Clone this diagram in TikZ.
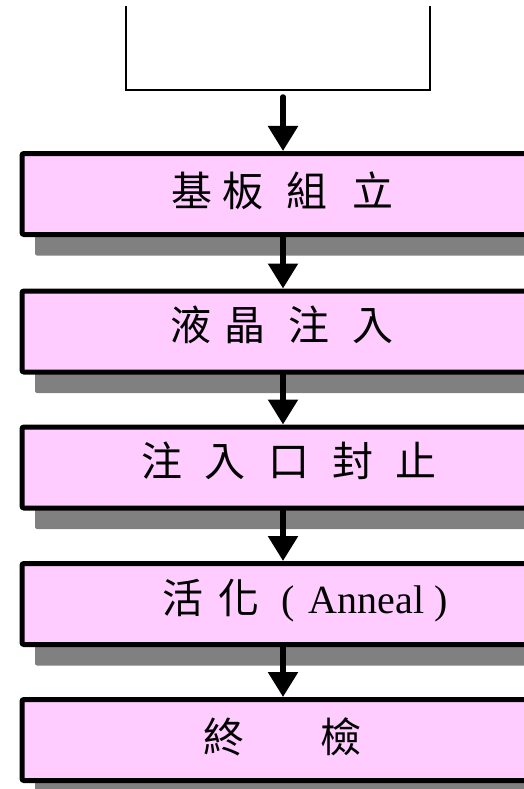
\documentclass[tikz,border=0pt]{standalone}
\usepackage{fontspec}
\setmainfont{Liberation Serif}
\newfontfamily\cjk{Noto Sans CJK TC}
\usetikzlibrary{arrows.meta,shadows}
\definecolor{boxpink}{HTML}{FFCCFF}
\newcommand\latinpart[1]{{\rmfamily\fontsize{40}{44}\selectfont #1}}
\begin{document}
\begin{tikzpicture}[x=1pt,y=-1pt,
  stepbox/.style={draw=black, line width=5pt, fill=boxpink, rounded corners=2pt,
    minimum width=522pt, minimum height=81pt, inner sep=0pt,
    drop shadow={shadow xshift=13pt, shadow yshift=-21pt, fill=black!50, opacity=1}},
  flow/.style={line width=5.5pt, line cap=round, -{Triangle[width=29pt,length=25pt]}},
  lbl/.style={inner sep=0pt, font=\cjk\fontsize{41}{46}\selectfont},
  topbox/.style={line width=2pt}]
\useasboundingbox (0,0) rectangle (524,789);
\clip (0,0) rectangle (524,789);
\fill[white] (0,0) rectangle (524,789);
% partial box at the top
\draw[topbox] (125.5,6) -- (125.5,90) -- (429.5,90) -- (429.5,6);
\coordinate (a0) at (283,97);
% process boxes
\node[stepbox] (b1) at (283,194) {};
\node[stepbox] (b2) at (283,331.5) {};
\node[stepbox] (b3) at (283,467.5) {};
\node[stepbox] (b4) at (283,604) {};
\node[stepbox] (b5) at (283,740) {};
% labels
\node[lbl] (t1) at (282.3,190.5) {基\hspace{10pt}板\hspace{23pt}組\hspace{25pt}立};
\node[lbl] (t2) at (282,325) {液\hspace{12.5pt}晶\hspace{23pt}注\hspace{23pt}入};
\node[lbl] (t3) at (289,461) {注\hspace{22.7pt}入\hspace{22.7pt}口\hspace{22.7pt}封\hspace{22.7pt}止};
\node[lbl] (t4) at (305,601) {活\hspace{15pt}化\hspace{22pt}\latinpart{(\hspace{14pt}Anneal )}};
\node[lbl] (t5) at (282.5,736.5) {終\hspace{76pt}檢};
% connectors
\draw[flow] (a0) -- (b1.north);
\draw[flow] (b1.south) -- (b2.north);
\draw[flow] (b2.south) -- (b3.north);
\draw[flow] (b3.south) -- (b4.north);
\draw[flow] (b4.south) -- (b5.north);
\end{tikzpicture}
\end{document}
